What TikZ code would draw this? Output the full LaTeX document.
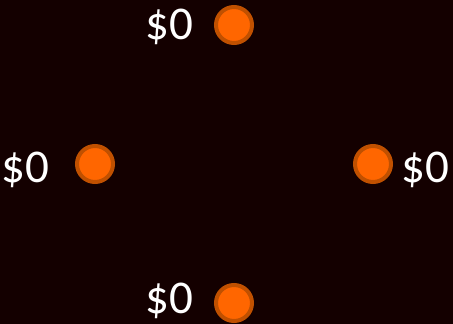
\documentclass[tikz,border=0pt]{standalone}
\usepackage{fontspec}
\setmainfont{Carlito}
\definecolor{bg}{HTML}{140000}
\definecolor{dotfill}{HTML}{FF6600}
\definecolor{dotedge}{HTML}{C05000}
\begin{document}
\begin{tikzpicture}[x=1pt,y=-1pt,
  dot/.style={circle,fill=dotfill,draw=dotedge,line width=4pt,minimum size=36pt,inner sep=0pt},
  lbl/.style={anchor=base west,inner sep=0pt,text=white,font=\fontsize{47}{47}\selectfont}]
\fill[bg] (0,0) rectangle (453,324);
\useasboundingbox (0,0) rectangle (453,324);
\node[dot] (top) at (234,25) {};
\node[dot] (left) at (95,164) {};
\node[dot] (right) at (373,164) {};
\node[dot] (bottom) at (234,303) {};
\node[lbl] (ltop) at (145,39) {\$0};
\node[lbl] (lleft) at (1,182) {\$0};
\node[lbl] (lright) at (401,182) {\$0};
\node[lbl] (lbottom) at (145,313) {\$0};
\end{tikzpicture}
\end{document}
